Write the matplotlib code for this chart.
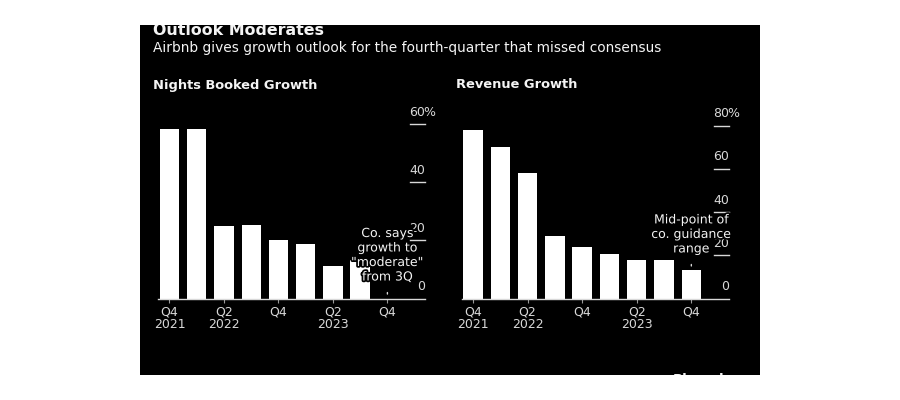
import matplotlib
matplotlib.use("Agg")
import matplotlib.pyplot as plt
import matplotlib.patheffects as pe
from matplotlib.patches import Rectangle
import matplotlib.transforms as mtransforms

# quarters Q4 2021 .. Q4 2023
quarters = ["Q4 2021", "Q1 2022", "Q2 2022", "Q3 2022", "Q4 2022",
            "Q1 2023", "Q2 2023", "Q3 2023", "Q4 2023"]
nights_growth = [58.5, 58.5, 25, 25.2, 20.2, 18.8, 11.2, 13.2, 0]
revenue_growth = [78, 70, 58, 29, 24, 20.5, 18, 17.7, 13]

tick_pos = [0, 2, 4, 6, 8]
tick_labels = ["Q4\n2021", "Q2\n2022", "Q4", "Q2\n2023", "Q4"]
nights_yticks = [0, 20, 40, 60]
revenue_yticks = [0, 20, 40, 60, 80]

W, H = 900, 400
FONT = "DejaVu Sans"
TXT = "#f4f4f4"
GRAY = "#d8d8d8"


def fx(px):
    return px / W


def fy(py):
    return 1 - py / H


def draw_panel(fig, left, right, title, values, yticks, ytop, note, note_val):
    bottom = fy(298.5)
    top = fy(105)
    ax = fig.add_axes([fx(left), bottom, fx(right) - fx(left), top - bottom])
    ax.set_facecolor("black")
    ax.set_zorder(2)
    x = list(range(len(values)))
    ax.bar(x, values, width=0.71, color="white", zorder=2)
    ax.set_xlim(-0.42, 9.38)
    ax.set_ylim(0, ytop)
    for s in ["top", "left", "right"]:
        ax.spines[s].set_visible(False)
    ax.spines["bottom"].set_color(GRAY)
    ax.spines["bottom"].set_linewidth(1.0)
    ax.set_yticks([])
    ax.set_xticks(tick_pos)
    ax.set_xticklabels(tick_labels, fontsize=9, color=GRAY, family=FONT,
                       linespacing=1.0)
    ax.tick_params(axis="x", length=3, color="#999999", pad=2)

    # right side y labels, sitting on short tick lines
    trans = mtransforms.blended_transform_factory(ax.transAxes, ax.transData)
    off = mtransforms.offset_copy(trans, fig=fig, x=0, y=12, units="dots")
    pct = mtransforms.offset_copy(trans, fig=fig, x=-1.5, y=12, units="dots")
    for v in yticks:
        if v > 0:
            ax.plot([0.944, 1.0], [v, v], transform=trans, color=GRAY,
                    lw=1.0, clip_on=False, zorder=3)
        ax.text(1.0, v, str(v), transform=off, ha="right", va="center",
                fontsize=9, color=GRAY, family=FONT, zorder=4)
        if v == yticks[-1]:
            ax.text(1.0, v, "%", transform=pct, ha="left", va="center",
                    fontsize=9, color=GRAY, family=FONT, zorder=4)

    fig.text(fx(left - 5), fy(85), title, fontsize=9.4, fontweight="bold",
             color=TXT, family=FONT, va="center", ha="left")

    ax.annotate(note, xy=(8, note_val), xycoords="data",
                xytext=(0, 15), textcoords="offset pixels",
                ha="center", va="bottom", fontsize=9, color=TXT, family=FONT,
                linespacing=1.15, zorder=5,
                path_effects=[pe.withStroke(linewidth=2.5, foreground="black")],
                arrowprops=dict(arrowstyle="-", color=GRAY, lw=1,
                                shrinkA=4.5, shrinkB=3.2))
    return ax


fig = plt.figure(figsize=(W / 100, H / 100), dpi=100)
fig.patch.set_facecolor("white")

panel = Rectangle((fx(140), fy(375)), fx(760) - fx(140), fy(25) - fy(375),
                  transform=fig.transFigure, facecolor="black",
                  edgecolor="none", zorder=-5)
fig.patches.append(panel)

t = fig.text(fx(153), fy(34.8), "Outlook Moderates", fontsize=11.4,
             fontweight="bold", color=TXT, family=FONT, va="baseline")
t.set_clip_path(panel)
fig.text(fx(153), fy(48),
         "Airbnb gives growth outlook for the fourth-quarter that missed consensus",
         fontsize=9.9, color=TXT, family=FONT, va="center")
b = fig.text(fx(673), fy(372.5), "Bloomberg", fontsize=9.5, fontweight="bold",
             color=TXT, family=FONT, va="top")
b.set_clip_path(panel)

draw_panel(fig, 158, 425, "Nights Booked Growth", nights_growth,
           nights_yticks, 66.7,
           'Co. says\ngrowth to\n"moderate"\nfrom 3Q', nights_growth[-1])
draw_panel(fig, 461.5, 729, "Revenue Growth", revenue_growth,
           revenue_yticks, 89.6,
           "Mid-point of\nco. guidance\nrange", revenue_growth[-1])

fig.savefig("out.png", dpi=100, facecolor="white")
